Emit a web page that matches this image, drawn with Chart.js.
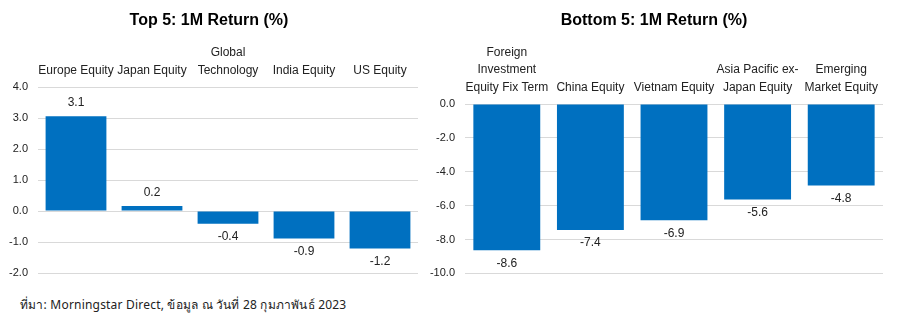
<!DOCTYPE html>
<html>
<head>
<meta charset="utf-8">
<script src="https://cdn.jsdelivr.net/npm/chart.js@4.4.0/dist/chart.umd.min.js"></script>
<style>
  body { margin: 0; background: #fff; width: 899px; height: 322px; overflow: hidden; position: relative; }
  .box { position: absolute; top: 0; height: 290px; }
  #leftBox { left: 0; width: 425px; }
  #rightBox { left: 425px; width: 474px; }
  .source { position: absolute; left: 20px; top: 295px; font: 12px Tahoma, "Noto Sans", "DejaVu Sans", sans-serif; color: #222; letter-spacing: 0.2px; }
</style>
</head>
<body>
<div class="box" id="leftBox"><canvas id="topChart"></canvas></div>
<div class="box" id="rightBox"><canvas id="bottomChart"></canvas></div>
<div class="source">ที่มา: Morningstar Direct, ข้อมูล ณ วันที่ 28 กุมภาพันธ์ 2023</div>

<script>
// data
const topCategories = ['Europe Equity', 'Japan Equity', ['Global', 'Technology'], 'India Equity', 'US Equity'];
const topValues = [3.06, 0.16, -0.41, -0.89, -1.21];
const topTicks = [-2, -1, 0, 1, 2, 3, 4];

const bottomCategories = [['Foreign', 'Investment', 'Equity Fix Term'], 'China Equity', 'Vietnam Equity', ['Asia Pacific ex-', 'Japan Equity'], ['Emerging', 'Market Equity']];
const bottomValues = [-8.64, -7.44, -6.86, -5.64, -4.81];
const bottomTicks = [-10, -8, -6, -4, -2, 0];

const fontName = '"Liberation Sans", Arial, sans-serif';
const textColor = '#222';
const barColor = '#0070c0';

// value labels above / below bars
const valueLabels = {
    id: 'valueLabels',
    afterDatasetsDraw(chart) {
        const ctx = chart.ctx;
        const values = chart.data.datasets[0].data;
        ctx.save();
        ctx.font = '12px ' + fontName;
        ctx.fillStyle = textColor;
        ctx.textAlign = 'center';
        ctx.textBaseline = 'middle';
        chart.getDatasetMeta(0).data.forEach((bar, i) => {
            const v = values[i];
            const y = v >= 0 ? bar.y - 13 : bar.y + 13;
            ctx.fillText(v.toFixed(1), bar.x, y);
        });
        ctx.restore();
    }
};

function makeChart(id, title, labels, values, ticks, axisWidth, axisHeight, pad) {
    return new Chart(document.getElementById(id), {
        type: 'bar',
        data: {
            labels: labels,
            datasets: [{
                data: values,
                backgroundColor: barColor,
                barPercentage: 0.8,
                categoryPercentage: 1
            }]
        },
        options: {
            responsive: true,
            maintainAspectRatio: false,
            animation: false,
            layout: { padding: pad },
            plugins: {
                legend: { display: false },
                tooltip: { enabled: false },
                title: {
                    display: true,
                    text: title,
                    color: '#000',
                    font: { family: fontName, size: 16, weight: 'bold', lineHeight: 1.275 },
                    padding: { top: 10, bottom: 0 }
                }
            },
            scales: {
                x: {
                    position: 'top',
                    grid: { display: false, drawTicks: false },
                    border: { display: false },
                    ticks: {
                        color: textColor,
                        font: { family: fontName, size: 12, lineHeight: 1.45 },
                        padding: 8,
                        maxRotation: 0,
                        autoSkip: false
                    },
                    afterFit(scale) { scale.height = axisHeight; }
                },
                y: {
                    min: ticks[0],
                    max: ticks[ticks.length - 1],
                    grid: { color: '#d9d9d9', lineWidth: 1, drawTicks: false },
                    border: { display: false },
                    afterBuildTicks(scale) { scale.ticks = ticks.map(v => ({ value: v })); },
                    ticks: {
                        color: textColor,
                        font: { family: fontName, size: 11 },
                        padding: 10,
                        callback: v => v.toFixed(1)
                    },
                    afterFit(scale) { scale.width = axisWidth; }
                }
            }
        },
        plugins: [valueLabels]
    });
}

makeChart('topChart', 'Top 5: 1M Return (%)', topCategories, topValues, topTicks, 38, 56.6,
    { left: 0, right: 7, top: 0, bottom: 17 });
makeChart('bottomChart', 'Bottom 5: 1M Return (%)', bottomCategories, bottomValues, bottomTicks, 40, 73.6,
    { left: 0, right: 16, top: 0, bottom: 13 });
</script>
</body>
</html>
